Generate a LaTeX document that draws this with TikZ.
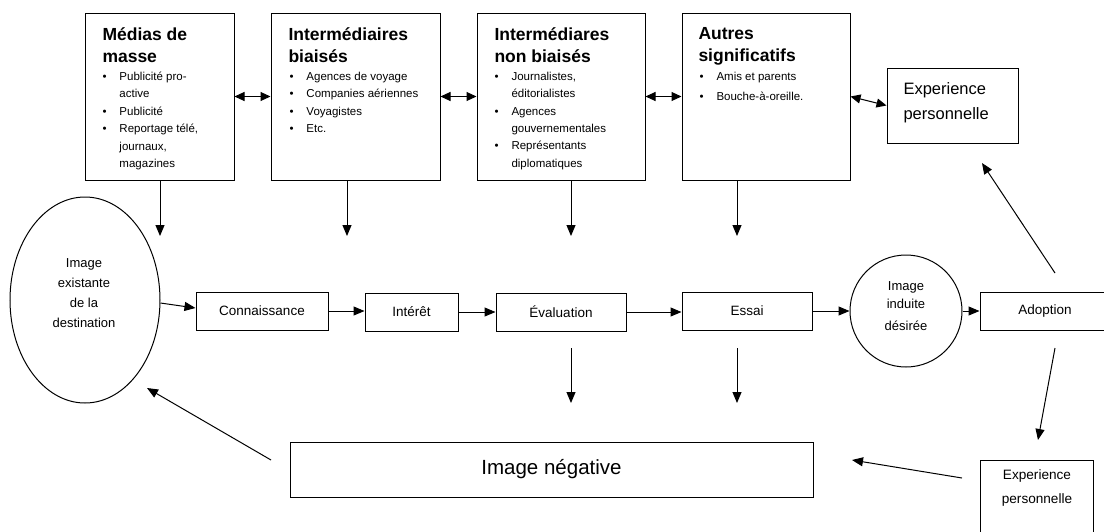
\documentclass[tikz,border=0pt]{standalone}
\usepackage{fontspec}
\setmainfont{Liberation Sans}
\usetikzlibrary{arrows.meta,shapes.geometric}
\newcommand{\bul}{\makebox[17pt][l]{\textbullet}}
\newcommand{\ind}{\hspace*{17pt}}
\begin{document}
\begin{tikzpicture}[x=1pt,y=-1pt, line width=1pt,
  box/.style={draw, rectangle, inner sep=0pt},
  arr/.style={-{Triangle[length=11pt,width=9pt]}},
  darr/.style={{Triangle[length=10pt,width=9pt]}-{Triangle[length=10pt,width=9pt]}},
  ttl/.style={anchor=north west, inner sep=0pt, align=left, font=\fontsize{17.5}{22}\selectfont\bfseries},
  lst/.style={anchor=north west, inner sep=0pt, align=left, font=\fontsize{11.5}{17.4}\selectfont},
  lbl/.style={font=\fontsize{13.5}{16}\selectfont}]
\useasboundingbox (0,0) rectangle (1104,531);

% top boxes
\node[box, minimum width=149pt, minimum height=167pt] (m1) at (159.5,96.5) {};
\node[box, minimum width=169pt, minimum height=167pt] (m2) at (355.5,96.5) {};
\node[box, minimum width=168pt, minimum height=167pt] (m3) at (561,96.5) {};
\node[box, minimum width=168pt, minimum height=167pt] (m4) at (766,96.5) {};
\node[box, minimum width=131pt, minimum height=75pt] (expT) at (952.5,105.5) {};

\node[ttl] (m1h) at (102,27) {Médias de\\masse};
\node[ttl] (m2h) at (288,27) {Intermédiaires\\biaisés};
\node[ttl] (m3h) at (494,27) {Intermédiares\\non biaisés};
\node[ttl] (m4h) at (698,27) {Autres\\significatifs};

\node[lst] (m1l) at (102,71.5) {\bul Publicité pro-\\\ind active\\\bul Publicité\\\bul Reportage télé,\\\ind journaux,\\\ind magazines};
\node[lst] (m2l) at (289,71.5) {\bul Agences de voyage\\\bul Companies aériennes\\\bul Voyagistes\\\bul Etc.};
\node[lst] (m3l) at (494,71.5) {\bul Journalistes,\\\ind éditorialistes\\\bul Agences\\\ind gouvernementales\\\bul Représentants\\\ind diplomatiques};
\node[lst] (m4l) at (699,71.5) {\bul Amis et parents\\[2.6pt]\bul Bouche-à-oreille.};

\node[anchor=west, inner sep=0pt, align=left, font=\fontsize{16.5}{25}\selectfont] (expTt) at (903,103) {Experience\\personnelle};

% middle row
\node[draw, ellipse, inner sep=0pt, minimum width=150pt, minimum height=206pt] (E) at (85,300) {};
\node[align=center, inner sep=0pt, font=\fontsize{13}{20}\selectfont] (Et) at (84,293) {Image\\existante\\de la\\destination};
\node[box, lbl, minimum width=132pt, minimum height=38pt] (con) at (262,311) {Connaissance};
\node[box, lbl, minimum width=93pt, minimum height=38pt] (int) at (411.5,312) {Intérêt};
\node[box, lbl, minimum width=130pt, minimum height=38pt] (eva) at (561,312) {Évaluation};
\node[box, lbl, minimum width=130pt, minimum height=38pt] (ess) at (747,311) {Essai};
\node[draw, circle, inner sep=0pt, minimum size=112pt] (C) at (906,311) {};
\node[align=center, inner sep=0pt, font=\fontsize{13}{18.5}\selectfont] (Ct) at (906,306) {Image\\induite\\[3pt]désirée};
\node[box, lbl, minimum width=130pt, minimum height=38pt] (ado) at (1045,311) {Adoption};

% bottom row
\node[box, minimum width=523pt, minimum height=55pt, font=\fontsize{20.5}{24}\selectfont] (neg) at (551.5,469.5) {Image négative};
\node[box, minimum width=113pt, minimum height=90pt] (expB) at (1036.5,505) {};
\node[align=center, inner sep=0pt, font=\fontsize{13.6}{24}\selectfont] (expBt) at (1037,488) {Experience\\personnelle};

% free ends
\coordinate (a1) at (160,236);
\coordinate (a2) at (347,236);
\coordinate (a3) at (571,236);
\coordinate (a4) at (737,236);
\coordinate (b3s) at (571,348);
\coordinate (b3e) at (571,403);
\coordinate (b4s) at (737,348);
\coordinate (b4e) at (737,403);
\coordinate (adTs) at (1055,273);
\coordinate (adTe) at (982,163);
\coordinate (adBs) at (1055,348);
\coordinate (adBe) at (1038,440);
\coordinate (exBs) at (962,478);
\coordinate (exBe) at (852,460);
\coordinate (ngs) at (271,460);
\coordinate (nge) at (147,388);

% connectors
\draw[arr] (a1 |- m1.south) -- (a1);
\draw[arr] (a2 |- m2.south) -- (a2);
\draw[arr] (a3 |- m3.south) -- (a3);
\draw[arr] (a4 |- m4.south) -- (a4);
\draw[darr] (m1.east) -- (m2.west);
\draw[darr] (m2.east) -- (m3.west);
\draw[darr] (m3.east) -- (m4.west);
\draw[darr] (m4.east) -- (expT.west);
\draw[arr] ([yshift=-3pt]E.east) -- ([yshift=3pt]con.west);
\draw[arr] (con.east) -- (con.east -| int.west);
\draw[arr] (int.east) -- (eva.west);
\draw[arr] (eva.east) -- (eva.east -| ess.west);
\draw[arr] (ess.east) -- (C.west);
\draw[arr] (C.east) -- (ado.west);
\draw[arr] (adTs) -- (adTe);
\draw[arr] (b3s) -- (b3e);
\draw[arr] (b4s) -- (b4e);
\draw[arr] (adBs) -- (adBe);
\draw[arr] (exBs) -- (exBe);
\draw[arr] (ngs) -- (nge);
\end{tikzpicture}
\end{document}
